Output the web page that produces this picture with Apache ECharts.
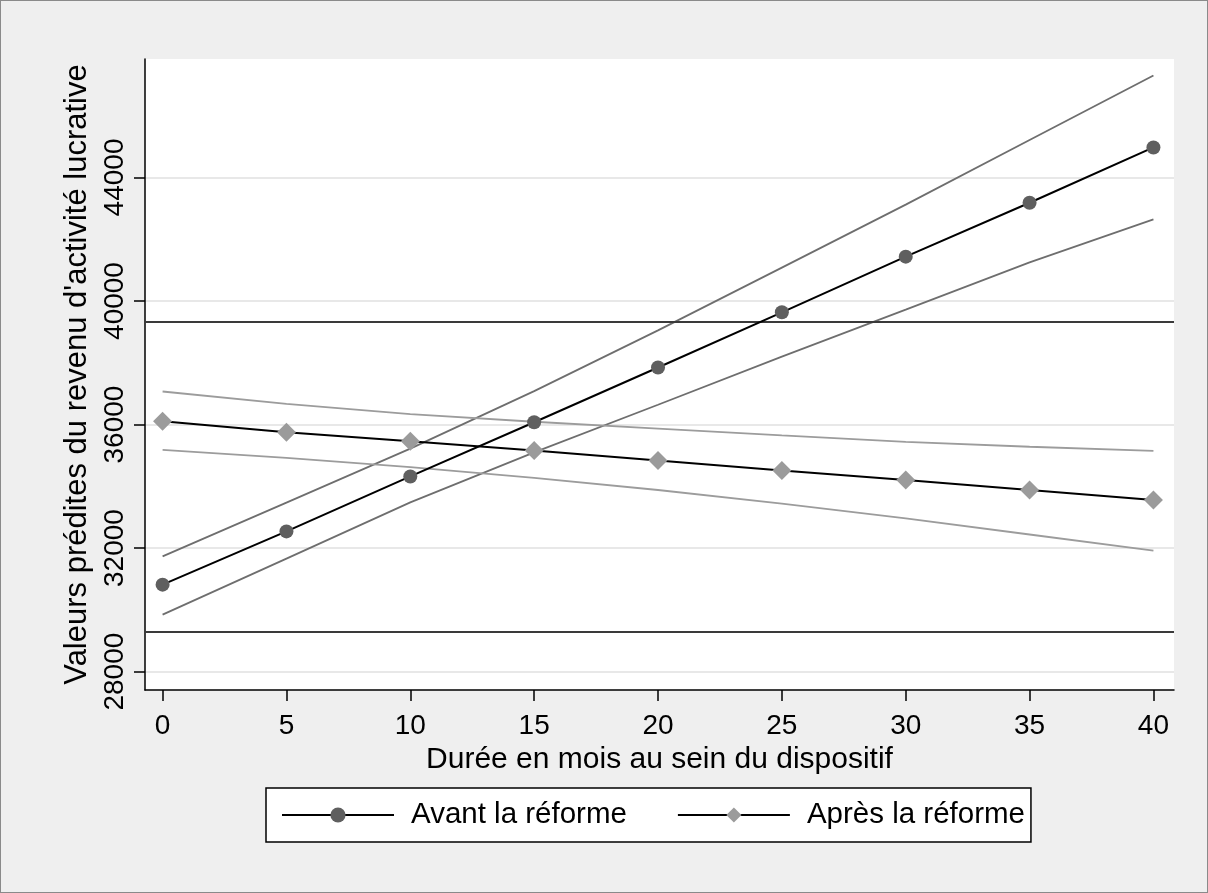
<!DOCTYPE html>
<html>
<head>
<meta charset="utf-8">
<script src="https://cdn.jsdelivr.net/npm/echarts@6/dist/echarts.min.js"></script>
<style>
  html, body { margin: 0; padding: 0; background: #efefef; }
  #chart { width: 1208px; height: 893px; box-sizing: border-box; border: 1px solid #8a8a8a; }
</style>
</head>
<body>
<div id="chart"></div>
<script>
// durée en mois
const months = [0, 5, 10, 15, 20, 25, 30, 35, 40]
// valeurs prédites
const avant = [30816, 32540, 34319, 36075, 37847, 39634, 41435, 43180, 44972]
const apres = [36107, 35751, 35460, 35157, 34834, 34510, 34208, 33884, 33560]
// intervalles de confiance
const avantHaut = [31730, 33470, 35220, 37080, 39050, 41080, 43120, 45210, 47300]
const avantBas = [29845, 31660, 33480, 35100, 36640, 38200, 39720, 41250, 42645]
const apresHaut = [37070, 36670, 36340, 36090, 35870, 35650, 35440, 35280, 35150]
const apresBas = [35180, 34920, 34620, 34270, 33880, 33440, 32960, 32440, 31920]
// lignes horizontales
const refLines = [39320, 29300]
const xTicks = [0, 5, 10, 15, 20, 25, 30, 35, 40]
const yTicks = [28000, 32000, 36000, 40000, 44000]

const font = '"Liberation Sans", Arial, sans-serif'
const pairs = (ys) => months.map((m, i) => [m, ys[i]])

const ciLine = (ys, color) => ({
  type: 'line',
  data: pairs(ys),
  symbol: 'none',
  silent: true,
  lineStyle: { color: color, width: 1.8 },
  z: 2
})

const chart = echarts.init(document.getElementById('chart'))
chart.setOption({
  animation: false,
  backgroundColor: '#efefef',
  grid: {
    left: 144, top: 58, right: 33, bottom: 202,
    show: true, backgroundColor: '#fff', borderWidth: 0
  },
  xAxis: {
    type: 'value',
    min: -0.71,
    max: 40.83,
    name: 'Durée en mois au sein du dispositif',
    nameLocation: 'middle',
    nameGap: 50,
    nameTextStyle: { fontFamily: font, fontSize: 30, color: '#000' },
    axisLine: { onZero: false, lineStyle: { color: '#000', width: 1.5 } },
    axisTick: { customValues: xTicks, length: 11, lineStyle: { color: '#000', width: 1.5 } },
    axisLabel: { customValues: xTicks, margin: 22, fontFamily: font, fontSize: 28, color: '#000' },
    splitLine: { show: false }
  },
  yAxis: {
    type: 'value',
    min: 27405,
    max: 47835,
    name: "Valeurs prédites du revenu d'activité lucrative",
    nameLocation: 'middle',
    nameRotate: 90,
    nameGap: 47,
    nameTextStyle: { fontFamily: font, fontSize: 31, color: '#000' },
    axisLine: { show: true, onZero: false, lineStyle: { color: '#000', width: 1.5 } },
    axisTick: { show: true, customValues: yTicks, length: 11, lineStyle: { color: '#000', width: 1.5 } },
    axisLabel: {
      customValues: yTicks, rotate: 90, margin: 16,
      formatter: v => String(v),
      fontFamily: font, fontSize: 28, color: '#000'
    },
    splitLine: { show: true, lineStyle: { color: '#e8e8e8', width: 2 } }
  },
  legend: {
    data: ['Avant la réforme', 'Après la réforme'],
    left: 265,
    top: 787,
    padding: [12, 6, 12, 15],
    itemGap: 50,
    itemWidth: 112,
    itemHeight: 19,
    backgroundColor: '#fff',
    borderColor: '#000',
    borderWidth: 1.5,
    borderRadius: 0,
    textStyle: { fontFamily: font, fontSize: 29.5, color: '#000', lineHeight: 30, padding: [0, 0, 0, 12] }
  },
  series: [
    ciLine(avantHaut, '#6e6e6e'),
    ciLine(avantBas, '#6e6e6e'),
    ciLine(apresHaut, '#9c9c9c'),
    ciLine(apresBas, '#9c9c9c'),
    {
      type: 'line',
      data: [],
      silent: true,
      z: 3,
      markLine: {
        silent: true,
        symbol: 'none',
        label: { show: false },
        lineStyle: { color: '#3a3a3a', width: 2, type: 'solid' },
        data: refLines.map(v => ({ yAxis: v }))
      }
    },
    {
      name: 'Avant la réforme',
      type: 'line',
      data: pairs(avant),
      symbol: 'circle',
      symbolSize: 14,
      itemStyle: { color: '#5f5f5f' },
      lineStyle: { color: '#000', width: 2 },
      z: 5
    },
    {
      name: 'Après la réforme',
      type: 'line',
      data: pairs(apres),
      symbol: 'diamond',
      symbolSize: 19,
      itemStyle: { color: '#9b9b9b' },
      lineStyle: { color: '#000', width: 2 },
      z: 5
    }
  ]
})
</script>
</body>
</html>
